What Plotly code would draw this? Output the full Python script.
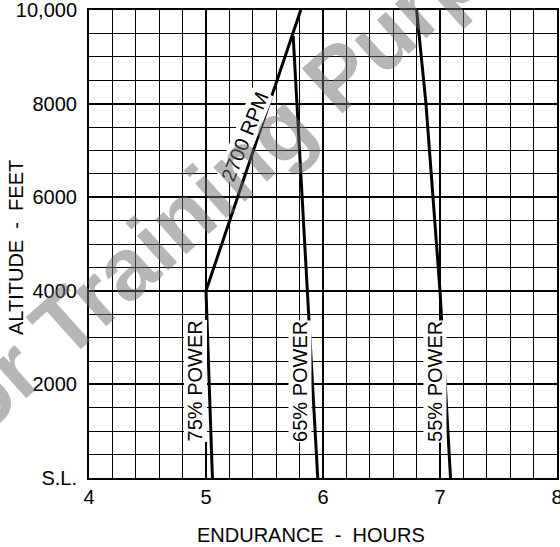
import plotly.graph_objects as go

# Endurance (hours) versus pressure altitude (feet) for each power setting
alt_75 = [0, 4000]
end_75 = [5.055, 5.0]

alt_rpm = [4000, 10000]
end_rpm = [5.0, 5.81]

alt_65 = [0, 4000, 9450]
end_65 = [5.955, 5.865, 5.745]

alt_55 = [0, 2000, 4000, 6000, 8000, 10000]
end_55 = [7.09, 7.045, 7.0, 6.94, 6.88, 6.80]

y_tickvals = [0, 2000, 4000, 6000, 8000, 10000]
y_ticktext = ["S.L.", "2000", "4000", "6000", "8000", "10,000"]
x_tickvals = [4, 5, 6, 7, 8]
x_ticktext = ["4", "5", "6", "7", "8"]

FONT = "Liberation Sans, Arial, Helvetica, sans-serif"
W, H = 560, 547
ML, MR, MT, MB = 89, 3, 10, 69
PW, PH = W - ML - MR, H - MT - MB


def px_to_paper(px, py):
    return (px - ML) / PW, (H - MB - py) / PH


fig = go.Figure()
line_style = dict(color="black", width=3)
for xs, ys in [(end_75, alt_75), (end_rpm, alt_rpm), (end_65, alt_65), (end_55, alt_55)]:
    fig.add_trace(go.Scatter(x=xs, y=ys, mode="lines", line=line_style,
                             hoverinfo="skip", showlegend=False))

# curve labels sit on white boxes that break the grid
label_font = dict(family=FONT, size=20, color="black")
for txt, x, y, ang in [("75% POWER", 4.91, 2073, -90),
                       ("65% POWER", 5.803, 2073, -90),
                       ("55% POWER", 6.957, 2073, -90),
                       ("2700 RPM", 5.333, 7308, -68)]:
    fig.add_annotation(x=x, y=y, xref="x", yref="y", text=txt, showarrow=False,
                       textangle=ang, font=label_font, bgcolor="white",
                       borderpad=0, xanchor="center", yanchor="middle")

# axis titles
tx, ty = px_to_paper(311, 535)
fig.add_annotation(x=tx, y=ty, xref="paper", yref="paper",
                   text="ENDURANCE\u00a0\u00a0-\u00a0\u00a0HOURS", showarrow=False,
                   font=dict(family=FONT, size=20, color="black"),
                   xanchor="center", yanchor="middle")
tx, ty = px_to_paper(16, 248)
fig.add_annotation(x=tx, y=ty, xref="paper", yref="paper",
                   text="ALTITUDE\u00a0\u00a0-\u00a0\u00a0FEET", showarrow=False,
                   textangle=-90, font=dict(family=FONT, size=20, color="black"),
                   xanchor="center", yanchor="middle")

# faint diagonal watermark across the sheet
wx, wy = px_to_paper(350, 65)
fig.add_annotation(x=wx, y=wy, xref="paper", yref="paper",
                   text="For Training Purposes Only", showarrow=False,
                   textangle=-42, font=dict(family=FONT, size=88, weight="bold",
                                            color="rgba(110,110,110,0.5)"),
                   xanchor="center", yanchor="middle")

fig.update_xaxes(range=[4, 8], tickvals=x_tickvals, ticktext=x_ticktext,
                 showgrid=True, gridcolor="black", gridwidth=2,
                 minor=dict(dtick=0.2, showgrid=True, gridcolor="black", gridwidth=1),
                 showline=True, linecolor="black", linewidth=2, mirror=True,
                 zeroline=False, ticks="", ticklabelstandoff=0,
                 ticklabeloverflow="allow", automargin=False,
                 tickfont=dict(family=FONT, size=20, color="black"))
fig.update_yaxes(range=[0, 10000], tickvals=y_tickvals, ticktext=y_ticktext,
                 showgrid=True, gridcolor="black", gridwidth=2,
                 minor=dict(dtick=500, showgrid=True, gridcolor="black", gridwidth=1),
                 showline=True, linecolor="black", linewidth=2, mirror=True,
                 zeroline=False, ticks="", ticklabelstandoff=6,
                 ticklabeloverflow="allow", automargin=False,
                 tickfont=dict(family=FONT, size=20, color="black"))

fig.update_layout(width=W, height=H, margin=dict(l=ML, r=MR, t=MT, b=MB, autoexpand=False),
                  paper_bgcolor="white", plot_bgcolor="white", showlegend=False)

fig.write_html("out.html")
